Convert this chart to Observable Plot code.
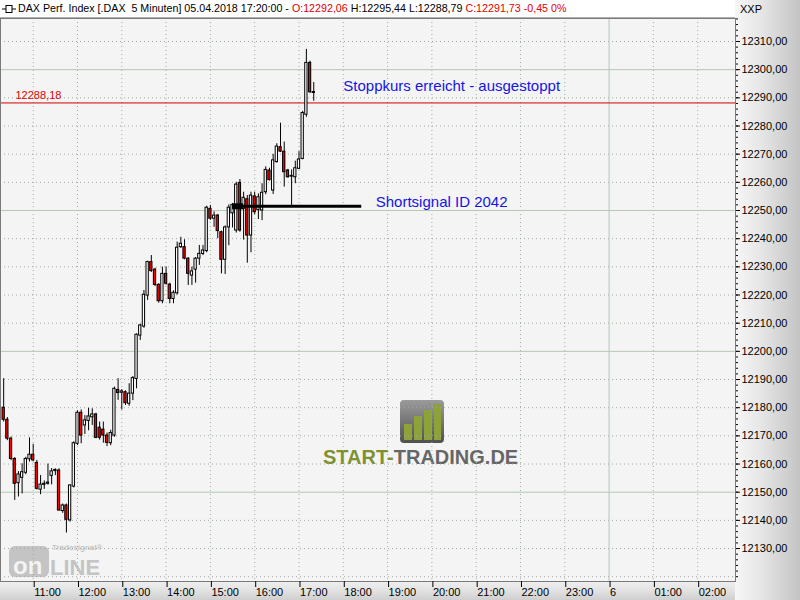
<!DOCTYPE html>
<html><head><meta charset="utf-8">
<script src="https://cdn.jsdelivr.net/npm/d3@7"></script>
<script src="https://cdn.jsdelivr.net/npm/@observablehq/plot@0.6"></script>
<style>
body{margin:0;background:#fff;font-family:"Liberation Sans",Arial,sans-serif;}
#wrap{position:relative;width:800px;height:600px;overflow:hidden;background:#fff}
#header{position:absolute;left:0;top:0;width:735px;height:18px;background:#fff;border-bottom:1px solid #b0b0b0;box-sizing:border-box;font-size:10.7px;line-height:17px;white-space:nowrap;color:#000}
#header .ic{position:absolute;left:2px;top:3px}
#header .tx{position:absolute;left:18px;top:0}
#rightband{position:absolute;left:735px;top:0;width:65px;height:600px;background:linear-gradient(to right,#f6f6f6,#e6e6e6 40%,#c4c4c4)}
#xxp{position:absolute;left:740px;top:3px;font-size:11px;color:#000}
#bottomband{position:absolute;left:0;top:581px;width:735px;height:19px;background:linear-gradient(to bottom,#f0f0f0,#e2e2e2 50%,#cfcfcf)}
#plotbg{position:absolute;left:0;top:18px;width:735px;height:563px;background:#f4f4f4}
#chart{position:absolute;left:0;top:18px}
.red{color:#e00000}
#logo{position:absolute;left:0;top:0;pointer-events:none}
</style></head><body>
<div id="wrap">
  <div id="plotbg"></div>
  <div id="bottomband"></div>
  <div id="rightband"></div>
  <div id="header"><svg class="ic" width="14" height="12"><line x1="0" y1="6" x2="14" y2="6" stroke="#000"/><rect x="4" y="2.5" width="6" height="7" fill="#fff" stroke="#000"/></svg><span class="tx">DAX Perf. Index [.DAX&nbsp; 5 Minuten] 05.04.2018 17:20:00 - <span class="red">O:12292,06</span> H:12295,44 L:12288,79 <span class="red">C:12291,73 -0,45 0%</span></span></div>
  <div id="xxp">XXP</div>
  <svg id="logo" width="800" height="600">
    <defs>
      <linearGradient id="lg1" x1="0" y1="0" x2="0" y2="1"><stop offset="0" stop-color="#9a9a9a"/><stop offset="1" stop-color="#505050"/></linearGradient>
    </defs>
    <rect x="400" y="400" width="44" height="43" rx="4" fill="url(#lg1)"/>
    <rect x="404" y="424" width="8" height="16" fill="#8da33a"/>
    <rect x="414" y="416" width="8" height="24" fill="#8da33a"/>
    <rect x="424" y="410" width="8" height="30" fill="#8da33a"/>
    <rect x="434" y="404" width="7" height="36" fill="#8da33a"/>
    <text x="323" y="464" font-size="20" font-weight="bold" font-family="Liberation Sans, Arial, sans-serif"><tspan fill="#7f9030">START-</tspan><tspan fill="#666">TRADING.DE</tspan></text>
    <rect x="9" y="546" width="40" height="31" rx="6" fill="#c4c4c4"/>
    <text x="13" y="574" font-size="24" font-weight="bold" fill="#f4f4f4" font-family="Liberation Sans, Arial, sans-serif">on</text>
    <text x="50" y="575" font-size="22" font-weight="bold" fill="#c4c4c4" font-family="Liberation Sans, Arial, sans-serif">LINE</text>
    <text x="52" y="550" font-size="8" font-weight="bold" fill="#c4c4c4" font-family="Liberation Sans, Arial, sans-serif">Tradesignal®</text>
  </svg>
  <div id="chart"></div>
</div>
<script>
// ---- data ----
const times = ["10:20","10:25","10:30","10:35","10:40","10:45","10:50","10:55",
"11:00","11:05","11:10","11:15","11:20","11:25","11:30","11:35","11:40","11:45","11:50","11:55",
"12:00","12:05","12:10","12:15","12:20","12:25","12:30","12:35","12:40","12:45","12:50","12:55",
"13:00","13:05","13:10","13:15","13:20","13:25","13:30","13:35","13:40","13:45","13:50","13:55",
"14:00","14:05","14:10","14:15","14:20","14:25","14:30","14:35","14:40","14:45","14:50","14:55",
"15:00","15:05","15:10","15:15","15:20","15:25","15:30","15:35","15:40","15:45","15:50","15:55",
"16:00","16:05","16:10","16:15","16:20","16:25","16:30","16:35","16:40","16:45","16:50","16:55",
"17:00","17:05","17:10","17:15","17:20"];
const open = [12180.0,12175.7,12169.0,12161.8,12153.2,12155.1,12156.9,12161.7,
12163.3,12160.4,12150.9,12152.6,12153.0,12155.8,12157.5,12157.7,12143.3,12145.3,12140.0,12152.0,
12167.2,12178.2,12173.7,12175.3,12176.6,12177.6,12172.9,12172.2,12170.1,12167.4,12170.1,12186.3,
12185.3,12185.5,12181.4,12185.0,12190.2,12205.6,12208.8,12219.8,12231.7,12229.0,12223.6,12217.8,
12227.5,12223.7,12218.6,12220.6,12237.0,12237.0,12232.9,12226.9,12229.0,12232.9,12234.6,12235.6,
12250.6,12247.1,12248.2,12242.3,12232.5,12244.0,12249.0,12242.9,12259.8,12250.5,12254.0,12241.1,
12255.0,12250.2,12250.0,12256.5,12264.2,12257.1,12267.2,12272.5,12270.9,12264.2,12262.0,12261.8,
12264.8,12268.3,12284.0,12302.4,12292.06];
const high = [12190.3,12176.5,12169.6,12162.3,12157.3,12160.1,12162.4,12169.3,
12167.0,12161.3,12155.9,12154.0,12160.0,12158.4,12158.3,12158.3,12145.8,12145.8,12152.6,12167.9,
12178.9,12179.2,12177.2,12179.8,12179.6,12178.0,12174.9,12174.9,12171.0,12172.0,12187.3,12190.3,
12186.4,12186.0,12188.5,12191.1,12206.2,12209.6,12221.6,12232.0,12234.0,12229.5,12224.0,12229.9,
12229.9,12224.2,12221.5,12238.8,12240.5,12239.6,12233.3,12229.9,12233.3,12237.6,12237.6,12251.5,
12251.8,12249.5,12248.6,12242.7,12244.5,12252.0,12252.5,12260.0,12261.0,12256.5,12255.3,12256.5,
12256.5,12255.9,12259.5,12265.5,12265.0,12269.9,12273.7,12281.0,12274.3,12264.6,12264.4,12267.5,
12270.9,12285.2,12307.2,12303.0,12295.44];
const low = [12174.9,12168.3,12161.2,12147.1,12148.3,12149.4,12156.2,12160.7,
12160.8,12150.8,12149.1,12151.0,12152.5,12152.6,12155.9,12143.3,12142.5,12135.5,12139.4,12151.5,
12166.6,12167.2,12170.5,12171.8,12173.7,12169.0,12168.5,12167.4,12166.2,12166.5,12169.5,12182.6,
12179.2,12180.8,12180.5,12182.5,12186.7,12203.9,12208.2,12218.1,12228.0,12223.0,12217.1,12216.9,
12223.5,12216.9,12216.9,12220.0,12236.5,12232.5,12223.4,12223.4,12224.2,12230.5,12234.0,12235.0,
12246.5,12244.0,12240.0,12227.5,12227.3,12237.5,12243.8,12242.0,12242.3,12239.5,12231.3,12235.0,
12248.5,12246.8,12246.4,12255.6,12260.5,12255.7,12266.8,12270.6,12258.3,12261.5,12251.8,12259.5,
12264.5,12268.0,12283.1,12291.5,12288.79];
const close = [12175.7,12169.0,12161.8,12153.0,12156.3,12157.1,12161.8,12163.3,
12161.3,12151.2,12152.7,12153.0,12153.4,12157.4,12157.9,12143.5,12145.3,12140.2,12152.4,12167.4,
12178.2,12170.1,12175.5,12176.9,12177.6,12169.3,12169.3,12170.1,12167.5,12171.0,12186.7,12185.2,
12185.8,12181.6,12185.0,12190.5,12205.9,12209.2,12220.1,12231.7,12228.5,12223.6,12217.8,12227.5,
12224.0,12218.6,12220.8,12236.8,12238.2,12232.9,12227.5,12228.4,12232.9,12234.6,12235.8,12251.0,
12247.1,12248.2,12242.7,12232.5,12244.0,12251.0,12252.0,12259.2,12242.9,12254.5,12241.1,12255.3,
12249.4,12254.7,12256.3,12264.4,12260.8,12267.8,12272.7,12270.9,12263.6,12261.8,12262.3,12265.0,
12268.1,12284.6,12302.4,12292.0,12291.73];

const hourTimes  = ["11:00","12:00","13:00","14:00","15:00","16:00","17:00","18:00","19:00","20:00","21:00","22:00","23:00","00:00","01:00","02:00"];
const hourLabels = ["11:00","12:00","13:00","14:00","15:00","16:00","17:00","18:00","19:00","20:00","21:00","22:00","23:00","6","01:00","02:00"];
const priceTicks = [12130,12140,12150,12160,12170,12180,12190,12200,12210,12220,12230,12240,12250,12260,12270,12280,12290,12300,12310];
const priceGrid  = [12120,12130,12140,12160,12170,12180,12190,12210,12220,12230,12240,12260,12270,12280,12290,12310];
const priceMajor = [12150,12200,12250,12300];
const refLevel = 12288.18;
const signal = {start:"15:30", end:"18:25", level:12251.5, blobEnd:"15:45"};
const notes = [
  {time:"18:00", price:12294.0, text:"Stoppkurs erreicht - ausgestoppt"},
  {time:"18:44", price:12252.8, text:"Shortsignal ID 2042"}
];

// ---- build ----
const T = (s, sec=0) => { const [h,m] = s.split(":").map(Number); return new Date(Date.UTC(2018,3,h<6?6:5,h,m,sec)); };
const candles = times.map((s,k)=>({t:T(s), open:open[k], high:high[k], low:low[k], close:close[k]}));
const hours = hourTimes.map((s,k)=>({t:T(s), label:hourLabels[k]}));
const labelOf = new Map(hours.map(d=>[+d.t, d.label]));
const half = 1.55*60000;
const fmt = d => d.toFixed(2).replace(".", ",");
const font = "Liberation Sans, Arial, sans-serif";

const chart = Plot.plot({
  width: 800, height: 582,
  marginTop: 0, marginRight: 65, marginBottom: 19, marginLeft: 0,
  x: {type: "utc", domain: [T("10:15",43), T("02:51",14)]},
  y: {domain: [12118.3, 12318.16]},
  style: {background: "transparent", fontFamily: font, overflow: "visible"},
  marks: [
    Plot.ruleY(priceGrid, {stroke: "#a4a8a4", strokeDasharray: "1,3"}),
    Plot.ruleX(hours.filter(d=>d.label!=="6"), {x: "t", stroke: "#94b494", strokeDasharray: "1,3"}),
    Plot.ruleX(hours.filter(d=>d.label==="6"), {x: "t", stroke: "#b4c8b4"}),
    Plot.ruleY(priceMajor, {stroke: "#b4c8b4"}),
    Plot.ruleY([refLevel], {stroke: "#d00000"}),
    Plot.text([refLevel], {y: d=>d, text: d=>fmt(d), frameAnchor: "left", dx: 15, dy: -7, fill: "#e00000", fontSize: 11, textAnchor: "start"}),
    Plot.ruleX(candles, {x: "t", y1: "low", y2: "high", stroke: "#000"}),
    Plot.rect(candles, {x1: d=>new Date(+d.t-half), x2: d=>new Date(+d.t+half), y1: "open", y2: "close",
      fill: d=>d.close<d.open ? "#ff0000" : "#ffffff", stroke: "#000", strokeWidth: 1}),
    Plot.ruleY([signal], {x1: d=>T(d.start), x2: d=>T(d.end), y: "level", stroke: "#000", strokeWidth: 3}),
    Plot.ruleY([signal], {x1: d=>T(d.start), x2: d=>T(d.blobEnd), y: "level", stroke: "#000", strokeWidth: 6}),
    Plot.text(notes, {x: d=>T(d.time), y: "price", text: "text", fill: "#1414e6", fontSize: 15, textAnchor: "start"}),
    Plot.frame({stroke: "#7a7a7a"}),
    Plot.axisY(priceTicks, {anchor: "right", label: null, tickSize: 4, tickPadding: 2, tickFormat: fmt, fontSize: 11, fill: "#000", stroke: "#000"}),
    Plot.axisY(d3.range(12120, 12320, 2), {anchor: "right", label: null, tickSize: 2, tickFormat: () => "", stroke: "#000"}),
    Plot.axisX(hours.map(d=>d.t), {anchor: "bottom", label: null, tickSize: 6, tickPadding: 1, tickFormat: d=>labelOf.get(+d), textAnchor: "start", dx: 1, fontSize: 11, fill: "#000", stroke: "#000"})
  ]
});
document.getElementById("chart").appendChild(chart);
</script>
</body></html>
